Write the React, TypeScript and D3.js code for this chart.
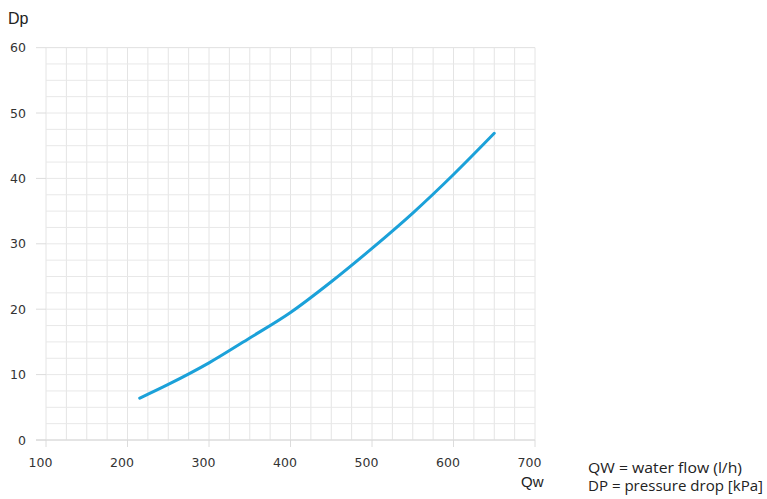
import React from "react";
import * as d3 from "d3";

const flowValues = [215, 250, 300, 350, 400, 450, 500, 550, 600, 650];
const dropValues = [6.4, 8.5, 11.8, 15.6, 19.5, 24.2, 29.3, 34.7, 40.6, 46.9];
const xTicks = [100, 200, 300, 400, 500, 600, 700];
const yTicks = [0, 10, 20, 30, 40, 50, 60];
const legendLines = ["QW = water flow (l/h)", "DP = pressure drop [kPa]"];

export default function App() {
  const W = 767, H = 499;
  const x = d3.scaleLinear().domain([100, 700]).range([46, 535]);
  const y = d3.scaleLinear().domain([0, 60]).range([440, 47.6]);
  const xMinor = d3.range(100, 700.1, 25);
  const yMinor = d3.range(0, 60.1, 2.5);
  const pts = flowValues.map((q, i) => [q, dropValues[i]] as [number, number]);
  const line = d3
    .line<[number, number]>()
    .x((d) => x(d[0]))
    .y((d) => y(d[1]))
    .curve(d3.curveMonotoneX);
  const tickFont = "'DejaVu Sans', Verdana, sans-serif";
  const titleFont = "Arial, 'Liberation Sans', Helvetica, sans-serif";
  return (
    <svg
      width={W}
      height={H}
      style={{ position: "absolute", left: 0, top: 0, background: "#fff" }}
    >
      <g>
        {xMinor.map((v) => (
          <line
            key={"vx" + v}
            x1={x(v)}
            x2={x(v)}
            y1={y(60)}
            y2={y(0)}
            stroke="#e4e4e4"
            strokeWidth={1}
          />
        ))}
        {yMinor.map((v) => (
          <line
            key={"hy" + v}
            x1={x(100)}
            x2={x(700)}
            y1={y(v)}
            y2={y(v)}
            stroke="#e8e8e8"
            strokeWidth={1}
          />
        ))}
        {yTicks.map((v) => (
          <line
            key={"ty" + v}
            x1={x(100) - 10}
            x2={x(100)}
            y1={y(v)}
            y2={y(v)}
            stroke="#dcdcdc"
            strokeWidth={1}
          />
        ))}
        {xTicks.map((v) => (
          <line
            key={"tx" + v}
            x1={x(v)}
            x2={x(v)}
            y1={y(0)}
            y2={y(0) + 7}
            stroke="#dcdcdc"
            strokeWidth={1}
          />
        ))}
        <line x1={x(100) - 10} x2={x(700)} y1={y(0)} y2={y(0)} stroke="#d6d6d6" />
        <line x1={x(100) - 10} x2={x(700)} y1={y(60)} y2={y(60)} stroke="#e4e4e4" />
      </g>
      <path
        d={line(pts) || ""}
        fill="none"
        stroke="#1ba1d9"
        strokeWidth={3}
        strokeLinecap="round"
      />
      <g fontFamily={tickFont} fontSize={12.5} fill="#333">
        {yTicks.map((v) => (
          <text key={"ly" + v} x={26} y={y(v) + 4.5} textAnchor="end">
            {v}
          </text>
        ))}
        {xTicks.map((v) => (
          <text key={"lx" + v} x={x(v) - 5.5} y={467} textAnchor="middle">
            {v}
          </text>
        ))}
      </g>
      <text x={8} y={24} fontFamily={titleFont} fontSize={16} fill="#222">
        Dp
      </text>
      <text x={521} y={487} fontFamily={titleFont} fontSize={15} fill="#222">
        Qw
      </text>
      <g fontFamily="'Open Sans', 'Noto Sans', sans-serif" fontSize={14} fill="#222">
        <text x={588} y={473} textLength={154} lengthAdjust="spacingAndGlyphs">
          {legendLines[0]}
        </text>
        <text x={588} y={491} textLength={175} lengthAdjust="spacingAndGlyphs">
          {legendLines[1]}
        </text>
      </g>
    </svg>
  );
}
